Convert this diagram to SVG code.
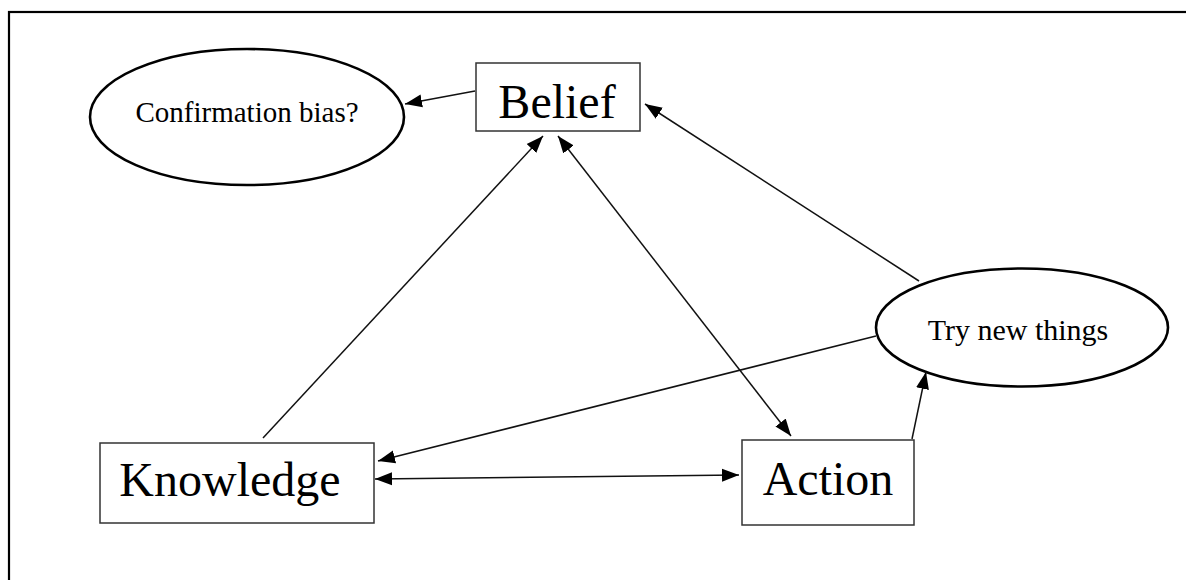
<svg xmlns="http://www.w3.org/2000/svg" width="1186" height="580" viewBox="0 0 1186 580">
<style>
  .frame { fill: none; stroke: #000; stroke-width: 2.2; }
  .box { fill: #fff; stroke: #333; stroke-width: 1.5; }
  .oval { fill: #fff; stroke: #000; stroke-width: 2.6; }
  .lbl { font-family: "Liberation Serif", "Times New Roman", serif; fill: #000; text-anchor: middle; }
  .big { font-size: 48px; }
  .small { font-size: 29px; }
  .conn line { stroke: #111; stroke-width: 1.5; fill: none; }
</style>
<defs>
  <marker id="arr" markerUnits="userSpaceOnUse" markerWidth="18" markerHeight="14" viewBox="0 0 18 14" refX="17" refY="7" orient="auto-start-reverse">
    <path d="M0,0.5 L17,7 L0,13.5 z" fill="#000"/>
  </marker>
</defs>
<rect width="1186" height="580" fill="#fff"/>
<rect class="frame" x="9" y="12" width="1200" height="600"/>

<g id="confirmation">
  <ellipse class="oval" cx="247" cy="117" rx="157" ry="68"/>
  <text class="lbl small" x="247" y="122">Confirmation bias?</text>
</g>
<g id="belief">
  <rect class="box" x="476" y="63" width="164" height="68"/>
  <text class="lbl big" x="557" y="118">Belief</text>
</g>
<g id="trynew">
  <ellipse class="oval" cx="1022" cy="327.5" rx="146" ry="59"/>
  <text class="lbl small" x="1018" y="340" style="font-size:30px">Try new things</text>
</g>
<g id="knowledge">
  <rect class="box" x="100" y="443" width="274" height="80"/>
  <text class="lbl big" x="230" y="496">Knowledge</text>
</g>
<g id="action">
  <rect class="box" x="742" y="440" width="172" height="85"/>
  <text class="lbl big" x="828" y="495">Action</text>
</g>

<g id="connectors" class="conn">
  <line x1="475" y1="91" x2="405" y2="104" marker-end="url(#arr)"/>
  <line x1="263" y1="438" x2="543" y2="136" marker-end="url(#arr)"/>
  <line x1="558" y1="136" x2="791" y2="436" marker-start="url(#arr)" marker-end="url(#arr)"/>
  <line x1="919" y1="281" x2="645" y2="104" marker-end="url(#arr)"/>
  <line x1="876" y1="336" x2="378" y2="461" marker-end="url(#arr)"/>
  <line x1="375" y1="479" x2="739" y2="475" marker-start="url(#arr)" marker-end="url(#arr)"/>
  <line x1="912" y1="439" x2="926" y2="372" marker-end="url(#arr)"/>
</g>
</svg>
